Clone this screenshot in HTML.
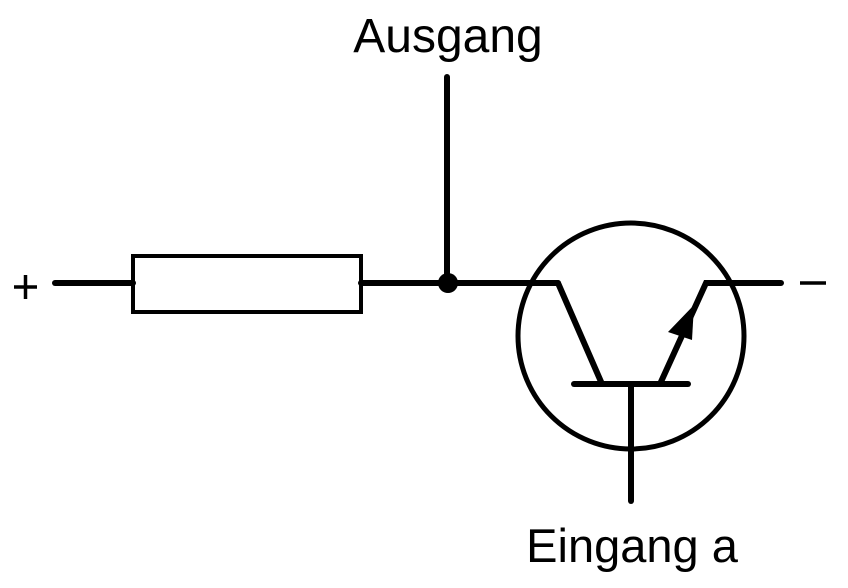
<!DOCTYPE html>
<html><head><style>html,body{margin:0;padding:0;background:#fff}</style></head>
<body>
<svg width="848" height="583" viewBox="0 0 848 583" xmlns="http://www.w3.org/2000/svg">
<g stroke="#000" stroke-width="6" fill="none" stroke-linecap="round">
<line x1="55" y1="283" x2="133" y2="283"/>
<rect x="133" y="256" width="228" height="56" stroke-width="4"/>
<line x1="361" y1="283" x2="558" y2="283"/>
<line x1="447" y1="77" x2="447" y2="283"/>
<circle cx="631" cy="336" r="113" stroke-width="5"/>
<polyline points="558,283 602,384" />
<line x1="574" y1="384" x2="688" y2="384"/>
<line x1="631" y1="384" x2="631" y2="501"/>
<polyline points="660,384 706,283 781,283"/>
</g>
<circle cx="448" cy="283" r="10" fill="#000"/>
<polygon points="694,305 668,332 692,340" fill="#000"/>
<g font-family="Liberation Sans, sans-serif" fill="#000">
<text x="448" y="52" font-size="48" text-anchor="middle">Ausgang</text>
<text x="632" y="562" font-size="47" text-anchor="middle">Eingang a</text>
</g>
<g stroke="#000" stroke-width="3.5">
<line x1="14" y1="287" x2="37" y2="287"/>
<line x1="25.5" y1="275" x2="25.5" y2="299"/>
<line x1="800" y1="283" x2="826" y2="283"/>
</g>
</svg>
</body></html>
